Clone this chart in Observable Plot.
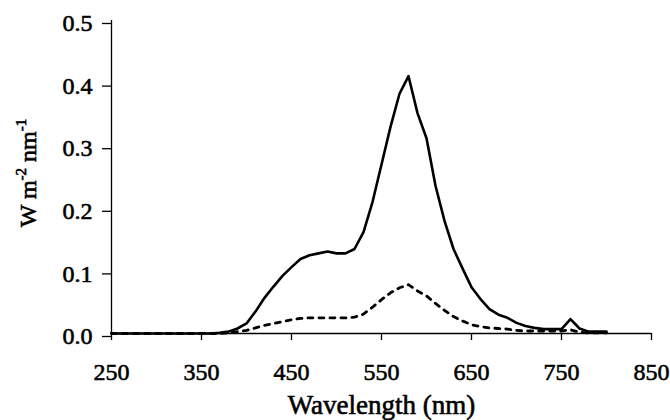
<!DOCTYPE html>
<html><head><meta charset="utf-8">
<script src="https://cdn.jsdelivr.net/npm/d3@7"></script>
<script src="https://cdn.jsdelivr.net/npm/@observablehq/plot@0.6"></script>
<style>body{margin:0;background:#fff} svg text{stroke:#000;stroke-width:0.6px;}</style>
</head><body><div id="chart"></div>
<script>
const wavelength = [250,260,270,280,290,300,310,320,330,340,350,360,370,380,390,400,410,420,430,440,450,460,470,480,490,500,510,520,530,540,550,560,570,580,590,600,610,620,630,640,650,660,670,680,690,700,710,720,730,740,750,760,770,780,790,800];
const solidSeries = [0,0,0,0,0,0,0,0,0,0,0,0,0.001,0.003,0.008,0.016,0.035,0.057,0.075,0.092,0.106,0.119,0.125,0.128,0.131,0.128,0.128,0.135,0.162,0.21,0.27,0.33,0.383,0.411,0.352,0.312,0.236,0.18,0.135,0.104,0.074,0.055,0.039,0.030,0.025,0.017,0.012,0.009,0.007,0.007,0.007,0.023,0.008,0.003,0.003,0.003];
const dashedSeries = [0,0,0,0,0,0,0,0,0,0,0,0,0,0.001,0.003,0.005,0.009,0.013,0.016,0.019,0.022,0.024,0.025,0.025,0.025,0.025,0.025,0.026,0.031,0.042,0.054,0.065,0.073,0.078,0.068,0.06,0.048,0.037,0.027,0.02,0.014,0.011,0.009,0.008,0.007,0.005,0.004,0.004,0.004,0.004,0.004,0.006,0.002,0.001,0.001,0.001];
const xTicks = [250,350,450,550,650,750,850];
const yTicks = [0,0.1,0.2,0.3,0.4,0.5];
const xLabel = "Wavelength (nm)";

const rows = wavelength.map((w, i) => ({w, solid: solidSeries[i], dashed: dashedSeries[i]}));

const chart = Plot.plot({
  width: 670, height: 420,
  marginLeft: 111, marginRight: 19, marginTop: 20, marginBottom: 87,
  style: {fontFamily: "Liberation Serif", fontSize: "24px"},
  x: {domain: [250, 850], ticks: xTicks, label: null},
  y: {domain: [0, 0.5], ticks: yTicks, label: null},
  marks: [
    Plot.ruleY([0], {stroke: "#000", strokeWidth: 1.3}),
    Plot.ruleX([250], {stroke: "#000", strokeWidth: 1.3}),
    Plot.axisX({ticks: xTicks, tickSize: 7, tickPadding: 22, tickFormat: d => String(d), stroke: "#000", strokeWidth: 1.3, strokeOpacity: 1, label: null}),
    Plot.axisY({ticks: yTicks, tickSize: 9, tickPadding: 10, tickFormat: d3.format(".1f"), stroke: "#000", strokeWidth: 1.3, strokeOpacity: 1, label: null, dy: 3}),
    Plot.line(rows, {x: "w", y: "dashed", stroke: "#000", strokeWidth: 2.8, strokeDasharray: "5,6"}),
    Plot.line(rows, {x: "w", y: "solid", stroke: "#000", strokeWidth: 2.6}),
    Plot.text([xLabel], {frameAnchor: "bottom", dy: 80, fontSize: 27, fill: "#000"})
  ]
});

const yl = d3.select(chart).append("text")
  .attr("transform", "translate(36,173) rotate(-90)")
  .attr("text-anchor", "middle")
  .attr("font-family", "Liberation Serif")
  .attr("font-size", 24)
  .attr("fill", "#000");
yl.append("tspan").text("W m");
yl.append("tspan").attr("dy", -10).attr("font-size", 15).text("-2");
yl.append("tspan").attr("dy", 10).text(" nm");
yl.append("tspan").attr("dy", -10).attr("font-size", 15).text("-1");

document.getElementById("chart").appendChild(chart);
</script>
</body></html>
